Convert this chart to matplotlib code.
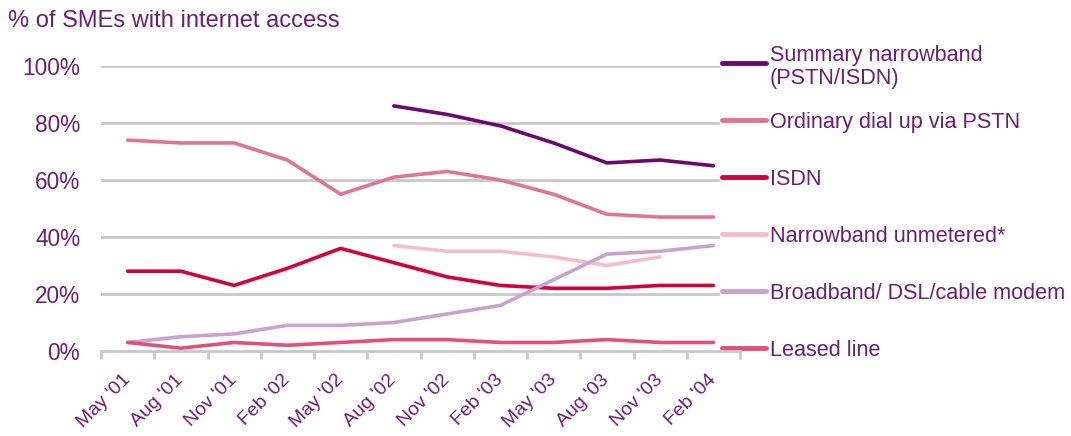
import numpy as np
import matplotlib
matplotlib.use("Agg")
import matplotlib.pyplot as plt
from matplotlib.transforms import blended_transform_factory

plt.rcParams['font.family'] = ['Liberation Sans', 'DejaVu Sans']

# data (% of SMEs with internet access)
months = ["May '01", "Aug '01", "Nov '01", "Feb '02", "May '02", "Aug '02",
          "Nov '02", "Feb '03", "May '03", "Aug '03", "Nov '03", "Feb '04"]
nan = np.nan
summary_nb = [nan, nan, nan, nan, nan, 86, 83, 79, 73, 66, 67, 65]
dialup_pstn = [74, 73, 73, 67, 55, 61, 63, 60, 55, 48, 47, 47]
isdn = [28, 28, 23, 29, 36, 31, 26, 23, 22, 22, 23, 23]
nb_unmetered = [nan, nan, nan, nan, nan, 37, 35, 35, 33, 30, 33, nan]
broadband = [3, 5, 6, 9, 9, 10, 13, 16, 25, 34, 35, 37]
leased = [3, 1, 3, 2, 3, 4, 4, 3, 3, 4, 3, 3]

series = [
    ("Summary narrowband\n(PSTN/ISDN)", summary_nb, "#6b0a6e"),
    ("Ordinary dial up via PSTN", dialup_pstn, "#e07492"),
    ("ISDN", isdn, "#d2003c"),
    ("Narrowband unmetered*", nb_unmetered, "#f5bccb"),
    ("Broadband/ DSL/cable modem", broadband, "#c9a2cd"),
    ("Leased line", leased, "#e0507a"),
]
legend_y = [101, 81, 61, 41, 21, 1]

text_col = "#6b1f72"
grid_col = "#c8c8c8"

fig = plt.figure(figsize=(10.71, 4.36), dpi=100)
ax = fig.add_axes([101 / 1071, 85 / 436, 639 / 1071, 285 / 436])

x = np.arange(len(months))
for label, vals, col in series:
    ax.plot(x, vals, color=col, lw=2.6, solid_capstyle='round',
            solid_joinstyle='round', zorder=3)

ax.set_xlim(-0.5, len(months) - 0.5)
ax.set_ylim(0, 100)

# gridlines (shorter than the axis, like the original)
for yv in [20, 40, 60, 80, 100]:
    ax.axhline(yv, xmin=0, xmax=0.965, color=grid_col, lw=2, zorder=1)

for s in ['top', 'right', 'left']:
    ax.spines[s].set_visible(False)
ax.spines['bottom'].set_color(grid_col)
ax.spines['bottom'].set_linewidth(2)

ax.set_yticks([0, 20, 40, 60, 80, 100])
ax.set_yticklabels(["0%", "20%", "40%", "60%", "80%", "100%"])
ax.tick_params(axis='y', length=0, pad=15, labelsize=16.3, labelcolor=text_col)

ax.set_xticks(np.arange(len(months) + 1) - 0.5)
ax.set_xticklabels([])
ax.tick_params(axis='x', which='major', length=6, width=2, color=grid_col)
ax.set_xticks(x, minor=True)
ax.set_xticklabels(months, minor=True, rotation=45, ha='right', va='center',
                   rotation_mode='anchor')
ax.tick_params(axis='x', which='minor', length=0, pad=19, labelsize=14,
               labelcolor=text_col)

# legend on the right, aligned with the gridlines
tr = blended_transform_factory(ax.transAxes, ax.transData)
for (label, vals, col), ly in zip(series, legend_y):
    ax.plot([0.972, 1.041], [ly, ly], color=col, lw=3.5, solid_capstyle='round',
            transform=tr, clip_on=False)
    ax.text(1.047, ly, label, transform=tr, color=text_col, fontsize=15.6,
            va='center_baseline', ha='left', linespacing=1.15)

fig.text(8 / 1071, 1 - 21 / 436, "% of SMEs with internet access",
         color=text_col, fontsize=17, va='center', ha='left')

fig.savefig("out.png", dpi=100)
